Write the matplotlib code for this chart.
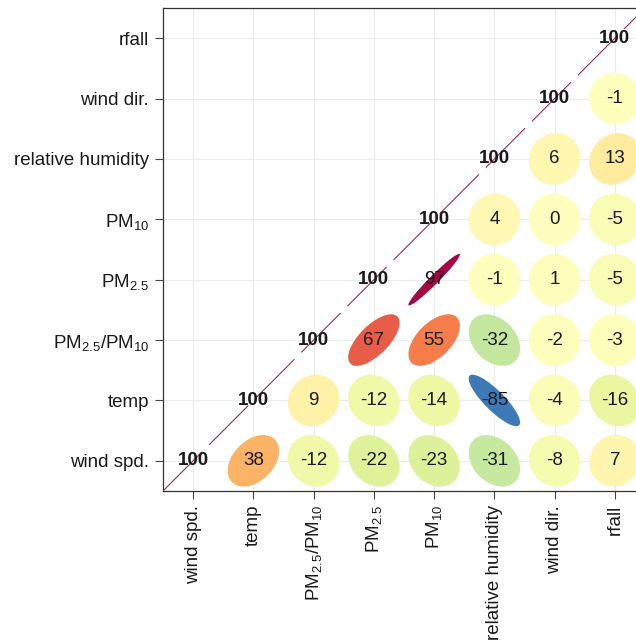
import numpy as np
import matplotlib
matplotlib.use("Agg")
import matplotlib.pyplot as plt
from matplotlib.patches import Ellipse

plt.rcParams["font.family"] = ["Liberation Sans", "DejaVu Sans"]
plt.rcParams["mathtext.fontset"] = "custom"
plt.rcParams["mathtext.rm"] = "Liberation Sans"
plt.rcParams["mathtext.it"] = "Liberation Sans"
plt.rcParams["lines.scale_dashes"] = False

# variable order, bottom-to-top / left-to-right
variables = ["wind spd.", "temp", r"PM$_{2.5}$/PM$_{10}$", r"PM$_{2.5}$",
             r"PM$_{10}$", "relative humidity", "wind dir.", "rfall"]

# correlations (x100), row i holds columns i..7
corr_rows = [
    [100, 38, -12, -22, -23, -31, -8, 7],
    [100, 9, -12, -14, -85, -4, -16],
    [100, 67, 55, -32, -2, -3],
    [100, 97, -1, 1, -5],
    [100, 4, 0, -5],
    [100, 6, 13],
    [100, -1],
    [100],
]

n = len(variables)
fig = plt.figure(figsize=(6.36, 6.40), dpi=100)
ax = fig.add_axes([163 / 636, 149 / 640, 482 / 636, 483 / 640])
ax.set_xlim(-0.5, n - 0.5)
ax.set_ylim(-0.5, n - 0.5)

# light grid
for i in range(n):
    ax.axvline(i, color="#ececec", lw=0.8, zorder=0)
    ax.axhline(i, color="#ececec", lw=0.8, zorder=0)

cmap = plt.get_cmap("Spectral_r")
k = 0.427
for i, row in enumerate(corr_rows):
    for off, v in enumerate(row):
        j = i + off
        r = v / 100.0
        if j != i:
            w = 2 * k * np.sqrt(1 + r)
            h = 2 * k * np.sqrt(max(1 - r, 0))
            e = Ellipse((j, i), w, h, angle=45, facecolor=cmap((r + 1) / 2),
                        edgecolor="none", zorder=2)
            ax.add_patch(e)
            ax.text(j, i, str(v), ha="center", va="center", fontsize=13.5,
                    color="#1a1a1a", zorder=4)
        else:
            ax.text(j, i, str(v), ha="center", va="center", fontsize=13.5,
                    fontweight="bold", color="#1a1a1a", zorder=4)

# dashed diagonal
ax.plot([-0.5, n - 0.5], [-0.5, n - 0.5], color="#9b2d4c", lw=0.8,
        dashes=(40, 7), zorder=3)

ax.set_xticks(range(n))
ax.set_yticks(range(n))
ax.set_xticklabels(variables, rotation=90, fontsize=13.5, color="#1a1a1a")
ax.set_yticklabels(variables, fontsize=13.5, color="#1a1a1a")
ax.tick_params(direction="out", length=6, width=0.8, color="#444444", pad=4)
for s in ax.spines.values():
    s.set_color("#333333")
    s.set_linewidth(0.9)

fig.savefig("out.png", dpi=100)
